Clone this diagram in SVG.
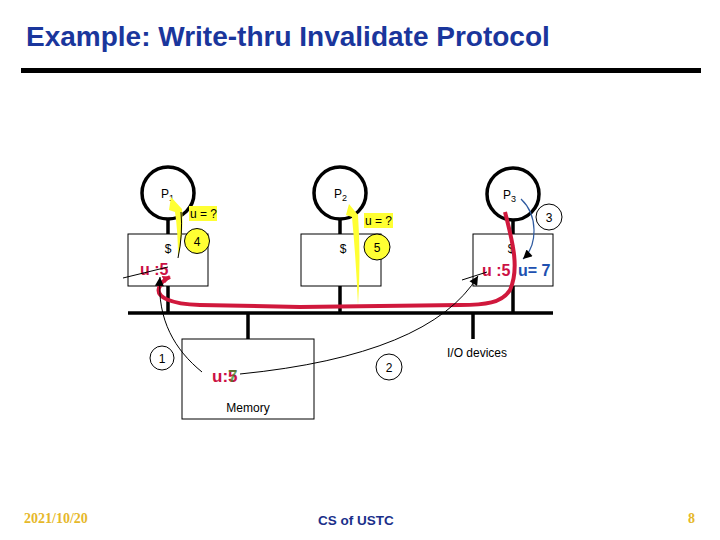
<svg xmlns="http://www.w3.org/2000/svg" width="720" height="540" viewBox="0 0 720 540">
<defs>
<style>
.t{font-family:"Liberation Sans",Arial,sans-serif;fill:#000}
.s{font-size:12px}
.box{fill:#fff;stroke:#000;stroke-width:1}
.proc{fill:#fff;stroke:#000;stroke-width:3.5}
.stem{stroke:#000;stroke-width:3.5;fill:none}
.num{fill:#fff;stroke:#000;stroke-width:1}
.ynum{fill:#ffff33;stroke:#000;stroke-width:1}
.ybg{fill:#ffff33}
.red{fill:#cc1144;font-weight:bold}
.thin{stroke:#000;stroke-width:1;fill:none}
</style>
<marker id="ah" viewBox="0 0 10 10" refX="10" refY="5" markerWidth="11" markerHeight="9" markerUnits="userSpaceOnUse" orient="auto"><path d="M0,0 L10,5 L0,10 z" fill="#000"/></marker>
<marker id="ahr" viewBox="0 0 10 10" refX="9" refY="5" markerWidth="8" markerHeight="8" markerUnits="userSpaceOnUse" orient="auto"><path d="M0,0 L10,5 L0,10 z" fill="#d0183c"/></marker>
</defs>
<rect width="720" height="540" fill="#fff"/>

<g id="title">
<text x="26" y="46" class="t" style="font-size:28px;font-weight:bold;fill:#1a369c">Example: Write-thru Invalidate Protocol</text>
<rect x="21" y="68" width="680" height="5" fill="#000"/>
</g>

<g id="bus">
<line x1="128" y1="313" x2="553" y2="313" class="stem"/>
</g>

<g id="p1">
<line x1="168" y1="219" x2="168" y2="235" class="stem"/>
<line x1="168" y1="286" x2="168" y2="313" class="stem"/>
<circle cx="168" cy="193" r="26" class="proc"/>
<rect x="128" y="234" width="80" height="52" class="box"/>
<text x="161" y="198" class="t s">P<tspan font-size="9" dy="3">1</tspan></text>
<text x="168" y="253" class="t s" text-anchor="middle">$</text>
<rect x="189" y="206" width="28" height="15" class="ybg"/>
<text x="190" y="218" class="t s">u = ?</text>
<circle cx="197" cy="241" r="12.5" class="ynum"/>
<text x="197" y="246" class="t s" text-anchor="middle">4</text>
<text x="140" y="275" class="t red" style="font-size:16px">u :5</text>
</g>

<g id="p2">
<line x1="340" y1="219" x2="340" y2="235" class="stem"/>
<line x1="340" y1="286" x2="340" y2="313" class="stem"/>
<circle cx="340" cy="193" r="26" class="proc"/>
<rect x="301" y="234" width="80" height="52" class="box"/>
<text x="334" y="198" class="t s">P<tspan font-size="9" dy="3">2</tspan></text>
<text x="343" y="253" class="t s" text-anchor="middle">$</text>
<rect x="364" y="213" width="29" height="15" class="ybg"/>
<text x="365" y="225" class="t s">u = ?</text>
<circle cx="377" cy="247" r="13" class="ynum"/>
<text x="377" y="252" class="t s" text-anchor="middle">5</text>
</g>

<g id="p3">
<line x1="513" y1="219" x2="513" y2="235" class="stem"/>
<line x1="513" y1="286" x2="513" y2="313" class="stem"/>
<circle cx="513" cy="194" r="26" class="proc"/>
<rect x="473" y="234" width="80" height="52" class="box"/>
<text x="503" y="199" class="t s">P<tspan font-size="9" dy="3">3</tspan></text>
<text x="511" y="253" class="t s" text-anchor="middle">$</text>
<circle cx="549" cy="217" r="13" class="num"/>
<text x="549" y="222" class="t s" text-anchor="middle">3</text>
<text x="482" y="276" class="t red" style="font-size:16px">u :5</text>
<text x="518" y="276" class="t" style="font-size:16px;font-weight:bold;fill:#2050b0">u= 7</text>
</g>

<g id="memory">
<line x1="248" y1="313" x2="248" y2="340" class="stem"/>
<rect x="182" y="339" width="132" height="80" class="box"/>
<text x="248" y="412" class="t s" text-anchor="middle">Memory</text>
<text x="212" y="382" class="t red" style="font-size:17px">u:<tspan>5</tspan></text>
<text x="228" y="382" class="t" style="font-size:17px;font-weight:bold;fill:#3a8a2a;opacity:0.75">7</text>
</g>

<g id="io">
<line x1="473" y1="313" x2="473" y2="339" class="stem"/>
<text x="447" y="357" class="t s">I/O devices</text>
</g>

<g id="steps">
<circle cx="162" cy="358" r="12" class="num"/>
<text x="162" y="363" class="t s" text-anchor="middle">1</text>
<circle cx="389" cy="367" r="13" class="num"/>
<text x="389" y="372" class="t s" text-anchor="middle">2</text>
</g>

<g id="connectors">
<path d="M 171 197 L 182 209 Q 184 232 178 258 Q 178 232 175 212 L 169 210 Z" fill="#ffff33"/>
<path d="M 181 212 Q 183 234 178 258" class="thin"/>
<path d="M 349 204 L 358 215 Q 361 260 358 305 Q 356 260 352 217 L 346 215 Z" fill="#ffff33"/>
<path d="M 521 199 C 538 215, 538 245, 523 259" fill="none" stroke="#2f5ba0" stroke-width="1.2" marker-end="url(#ah)"/>
<path d="M 505 212 C 512 240, 520 268, 510 290 C 502 303, 485 305, 460 305 L 300 307 L 200 305 C 170 304, 156 297, 159 288 C 161 282, 165 279, 170 277" fill="none" stroke="#d0183c" stroke-width="4" marker-end="url(#ahr)"/>
<path d="M 202 372 C 175 350, 157 320, 160 277" class="thin" marker-end="url(#ah)"/>
<line x1="123" y1="278" x2="168" y2="267" class="thin"/>
<path d="M 240 374 Q 430 355 478 276" class="thin" marker-end="url(#ah)"/>
<line x1="462" y1="280" x2="487" y2="272" class="thin"/>
</g>

<g id="footer">
<text x="24" y="523" style="font-family:'Liberation Serif','Times New Roman',serif;font-size:14px;font-weight:bold;fill:#e6b82a">2021/10/20</text>
<text x="318" y="525" class="t" style="font-size:13.5px;font-weight:bold;fill:#1a2f8a">CS of USTC</text>
<text x="688" y="523" style="font-family:'Liberation Serif','Times New Roman',serif;font-size:14px;font-weight:bold;fill:#e6b82a">8</text>
</g>
</svg>
